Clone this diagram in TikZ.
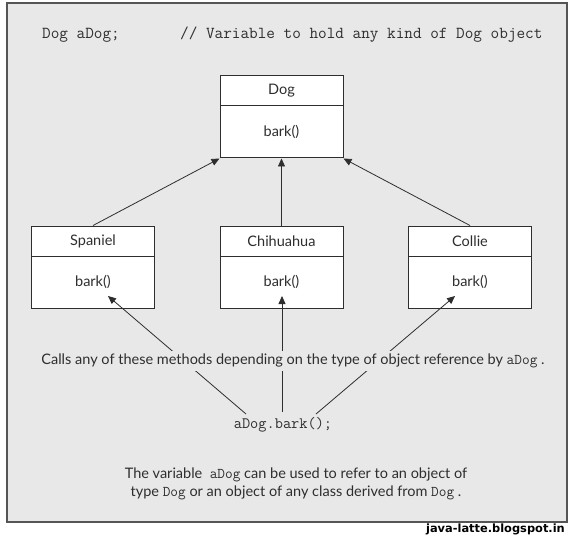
\documentclass[tikz,border=0pt]{standalone}
\usepackage{fontspec}
\setmainfont{Lato}
\newfontfamily\wmfont{DejaVu Sans}
\usetikzlibrary{arrows.meta}
\definecolor{bg}{HTML}{E8E8E8}
\definecolor{ink}{HTML}{2E2E2E}
\definecolor{framec}{HTML}{555555}
\newcommand{\inlinecode}[1]{{\ttfamily\fontsize{14.9}{16}\selectfont #1}}
\begin{document}
\begin{tikzpicture}[x=1pt,y=-1pt,
  title/.style={draw=ink,fill=white,line width=1pt,minimum width=123pt,minimum height=30pt,inner sep=0pt,text=ink,font=\fontsize{14.5}{16}\selectfont},
  body/.style={title,minimum height=52pt},
  arr/.style={draw=ink,line width=0.8pt,-{Triangle[length=8pt,width=7pt]}},
  code/.style={text=ink,inner sep=0pt,font=\ttfamily\fontsize{16.75}{18}\selectfont},
  prose/.style={text=ink,font=\fontsize{14.5}{17.5}\selectfont}]
\fill[white] (0,0) rectangle (574,535);
\useasboundingbox (0,0) rectangle (574,535);
\draw[draw=framec,fill=bg,line width=1.5pt] (7,3) rectangle (567,522);
% declaration
\node[code,anchor=west] (decl) at (42,35) {Dog aDog;};
\node[code,anchor=west] (cmt) at (180,35) {// Variable to hold any kind of Dog object};
% classes
\node[title] (dogT) at (281.5,91) {Dog};
\node[body]  (dogB) at (281.5,132) {bark()};
\node[title] (spT) at (93,241) {Spaniel};
\node[body]  (spB) at (93,282) {bark()};
\node[title] (chT) at (281.5,241) {Chihuahua};
\node[body]  (chB) at (281.5,282) {bark()};
\node[title] (coT) at (470,241) {Collie};
\node[body]  (coB) at (470,282) {bark()};
% inheritance
\draw[arr] (spT.north) -- (dogB.south west);
\draw[arr] (chT.north) -- (dogB.south);
\draw[arr] (coT.north) -- (dogB.south east);
% call
\node[code,font=\ttfamily\fontsize{15.9}{18}\selectfont] (call) at (283,425) {aDog.bark();};
\coordinate (tipS) at (108,296);
\coordinate (tipC) at (282,296);
\coordinate (tipL) at (455,296);
\coordinate (srcS) at (246,414);
\coordinate (srcC) at (282,412);
\coordinate (srcL) at (316,414);
\draw[arr] (srcS) -- (tipS);
\draw[arr] (srcC) -- (tipC);
\draw[arr] (srcL) -- (tipL);
\node[prose,fill=bg,inner xsep=2pt,inner ysep=2.5pt] (calls) at (293,361)
  {Calls any of these methods depending on the type of object reference by \inlinecode{aDog} .};
\node[prose,align=center] (note) at (296,484)
  {The variable\ \ \inlinecode{aDog} can be used to refer to an object of\\
   type \inlinecode{Dog} or an object of any class derived from \inlinecode{Dog} .};
\node[anchor=east,inner sep=0pt,text=black,font=\wmfont\bfseries\fontsize{11.4}{13}\selectfont] (wm) at (565,529) {java-latte.blogspot.in};
\end{tikzpicture}
\end{document}
